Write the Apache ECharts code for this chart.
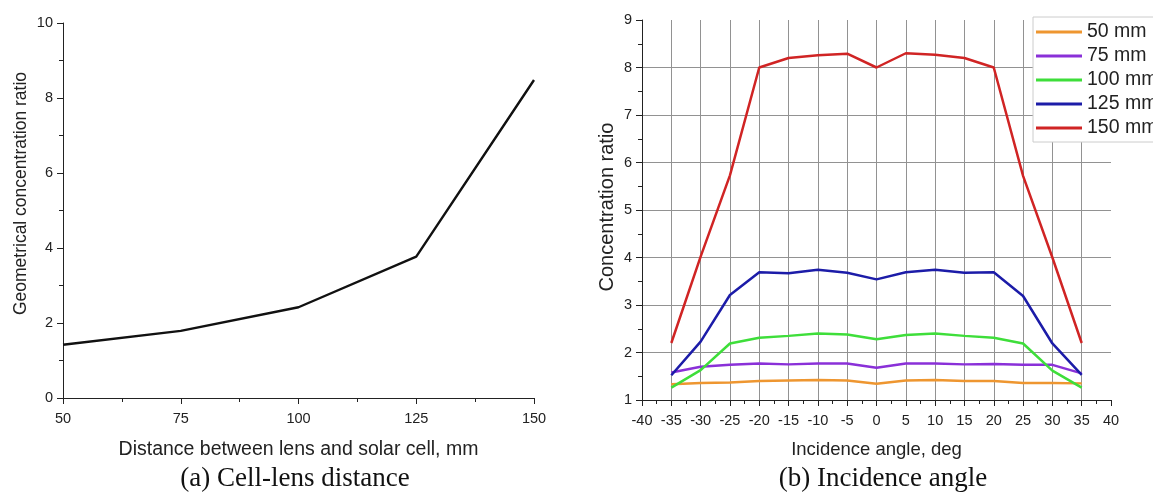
<!DOCTYPE html>
<html>
<head>
    <meta charset="utf-8">
    <script src="https://cdn.jsdelivr.net/npm/echarts@6/dist/echarts.min.js"></script>
</head>
<body style="margin:0">
    <div id="main" style="width: 1153px;height:492px;"></div>
    <script type="text/javascript">

// (a) cell-lens distance
var distance = [50, 75, 100, 125, 150];
var geo_ratio = [1.42, 1.79, 2.42, 3.77, 8.48];

// (b) incidence angle
var angles = [-35, -30, -25, -20, -15, -10, -5, 0, 5, 10, 15, 20, 25, 30, 35];
var names = ['50 mm', '75 mm', '100 mm', '125 mm', '150 mm'];
var r50  = [1.33, 1.36, 1.37, 1.40, 1.41, 1.42, 1.41, 1.34, 1.41, 1.42, 1.40, 1.40, 1.36, 1.36, 1.35];
var r75  = [1.58, 1.70, 1.74, 1.77, 1.75, 1.77, 1.77, 1.68, 1.77, 1.77, 1.75, 1.76, 1.74, 1.74, 1.56];
var r100 = [1.26, 1.63, 2.19, 2.31, 2.35, 2.40, 2.38, 2.28, 2.37, 2.40, 2.35, 2.31, 2.19, 1.62, 1.26];
var r125 = [1.52, 2.23, 3.21, 3.69, 3.67, 3.74, 3.68, 3.54, 3.69, 3.74, 3.68, 3.69, 3.19, 2.19, 1.53];
var r150 = [2.20, 4.02, 5.73, 8.00, 8.20, 8.26, 8.29, 8.00, 8.30, 8.27, 8.20, 8.00, 5.72, 4.00, 2.20];
var colors = ['#ee9630', '#8a30d8', '#3ede3a', '#1c1ca8', '#d02424'];

function pairs(xs, ys) {
    var out = [];
    for (var i = 0; i < xs.length; i++) out.push([xs[i], ys[i]]);
    return out;
}

var font = 'Liberation Sans, Arial, sans-serif';
var serif = 'Liberation Serif, Times New Roman, serif';
var axisText = {color: '#222', fontSize: 14.5, fontFamily: font};
var blackLine = {onZero: false, lineStyle: {color: '#222', width: 1}};
var tick = {length: 6, lineStyle: {color: '#222'}};
var minor = {show: true, splitNumber: 2, length: 4, lineStyle: {color: '#222'}};
var grey = {show: true, showMinLine: false, showMaxLine: false, lineStyle: {color: '#929292', width: 1}};
var captionStyle = {fontFamily: serif, fontSize: 27, fontWeight: 'normal', color: '#111'};

var series = [{
    type: 'line',
    xAxisIndex: 0, yAxisIndex: 0,
    symbol: 'none',
    lineStyle: {color: '#111', width: 2.4},
    data: pairs(distance, geo_ratio)
}];
var sets = [r50, r75, r100, r125, r150];
for (var k = 0; k < sets.length; k++) {
    series.push({
        name: names[k],
        type: 'line',
        xAxisIndex: 1, yAxisIndex: 1,
        symbol: 'none',
        color: colors[k],
        lineStyle: {color: colors[k], width: 2.5},
        data: pairs(angles, sets[k])
    });
}

option = {
    animation: false,
    title: [
        {text: '(a) Cell-lens distance', left: 290, top: 460, textAlign: 'center', textStyle: captionStyle},
        {text: '(b) Incidence angle', left: 878, top: 460, textAlign: 'center', textStyle: captionStyle}
    ],
    legend: {
        data: names,
        orient: 'vertical',
        left: 1033, top: 17,
        icon: 'rect',
        itemWidth: 46, itemHeight: 3, itemGap: 4,
        padding: [5, 4, 4, 3],
        backgroundColor: '#fff',
        borderColor: '#ccc', borderWidth: 1,
        textStyle: {fontSize: 19.5, fontFamily: font, color: '#222', lineHeight: 19}
    },
    grid: [
        {left: 63, right: 619, top: 23, bottom: 94},
        {left: 642, right: 42, top: 20, bottom: 92}
    ],
    xAxis: [{
        gridIndex: 0, type: 'value', min: 50, max: 150, interval: 25,
        name: 'Distance between lens and solar cell, mm', nameLocation: 'middle', nameGap: 42,
        nameTextStyle: {color: '#222', fontSize: 19.5, fontFamily: font},
        axisLine: blackLine, axisTick: tick, minorTick: minor,
        axisLabel: Object.assign({margin: 13}, axisText),
        splitLine: {show: false}
    }, {
        gridIndex: 1, type: 'value', min: -40, max: 40, interval: 5,
        name: 'Incidence angle, deg', nameLocation: 'middle', nameGap: 40,
        nameTextStyle: {color: '#222', fontSize: 18.5, fontFamily: font},
        axisLine: blackLine, axisTick: tick, minorTick: minor,
        axisLabel: Object.assign({margin: 13}, axisText),
        splitLine: grey
    }],
    yAxis: [{
        gridIndex: 0, type: 'value', min: 0, max: 10, interval: 2,
        name: 'Geometrical concentration ratio', nameLocation: 'middle', nameGap: 33,
        nameTextStyle: {color: '#222', fontSize: 17.5, fontFamily: font, padding: [0, 0, 0, 34]},
        axisLine: blackLine, axisTick: tick, minorTick: minor,
        axisLabel: Object.assign({margin: 10}, axisText),
        splitLine: {show: false}
    }, {
        gridIndex: 1, type: 'value', min: 1, max: 9, interval: 1,
        name: 'Concentration ratio', nameLocation: 'middle', nameGap: 25,
        nameTextStyle: {color: '#222', fontSize: 20, fontFamily: font, padding: [0, 0, 0, 6]},
        axisLine: blackLine, axisTick: tick, minorTick: minor,
        axisLabel: Object.assign({margin: 10}, axisText),
        splitLine: grey
    }],
    series: series
};

var myChart = echarts.init(document.getElementById('main'));
myChart.setOption(option);
    </script>
</body>
</html>
